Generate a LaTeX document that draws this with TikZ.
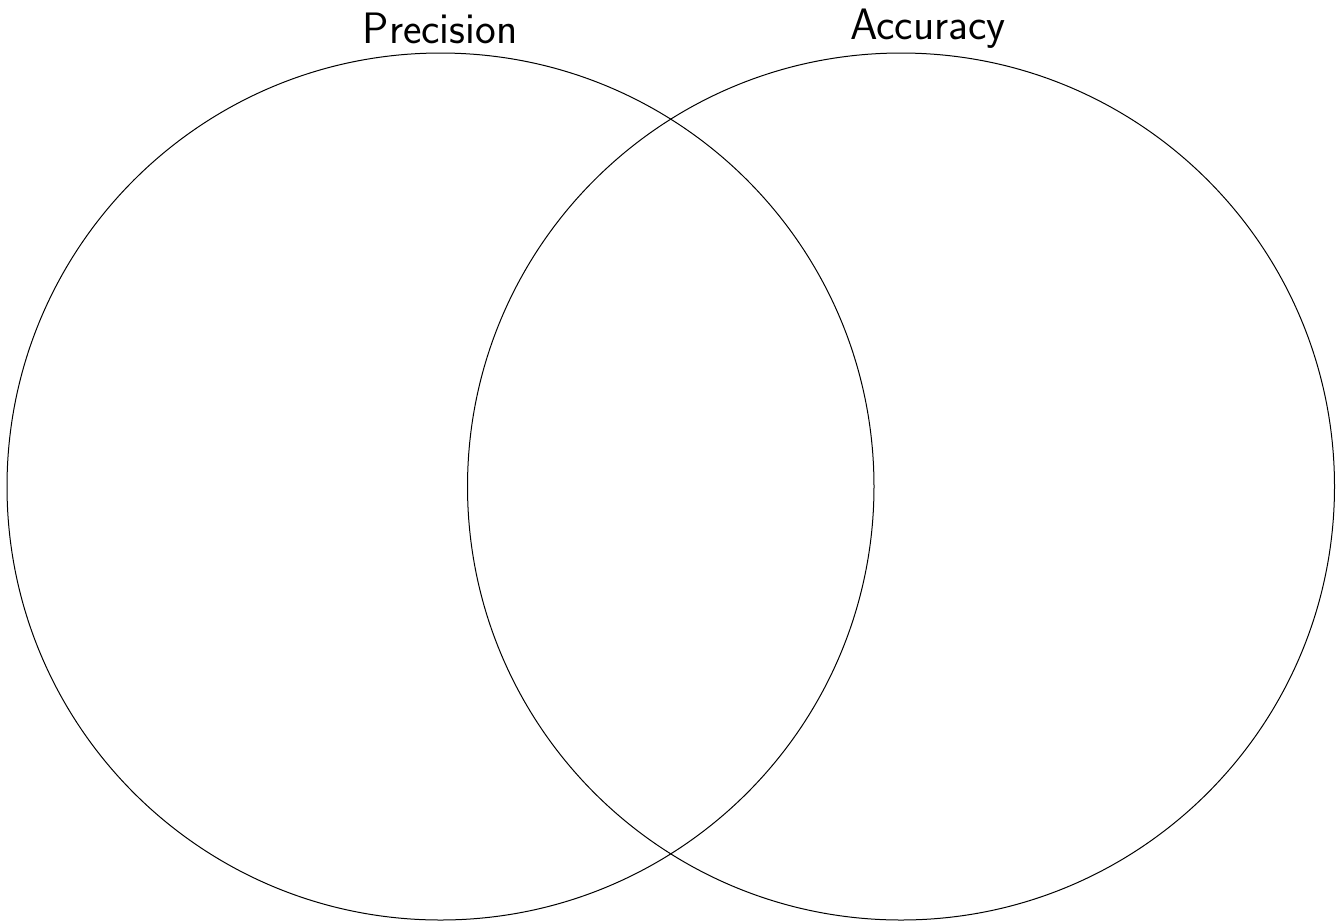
\documentclass[tikz,border=0pt]{standalone}
\begin{document}
\begin{tikzpicture}[x=0.5pt,y=-0.5pt,
  venn/.style={draw, circle, line width=0.5pt, minimum size=433.5pt, inner sep=0pt},
  lbl/.style={font=\sffamily\fontsize{22}{26}\selectfont, inner sep=0pt, anchor=base}]
\useasboundingbox (0,0) rectangle (1339,923);
\node[venn] (P) at (440.5,486.5) {};
\node[venn] (A) at (901,486.5) {};
\node[lbl] (pl) at (440,43) {Precision};
\node[lbl] (al) at (928,39) {Accuracy};
\end{tikzpicture}
\end{document}
